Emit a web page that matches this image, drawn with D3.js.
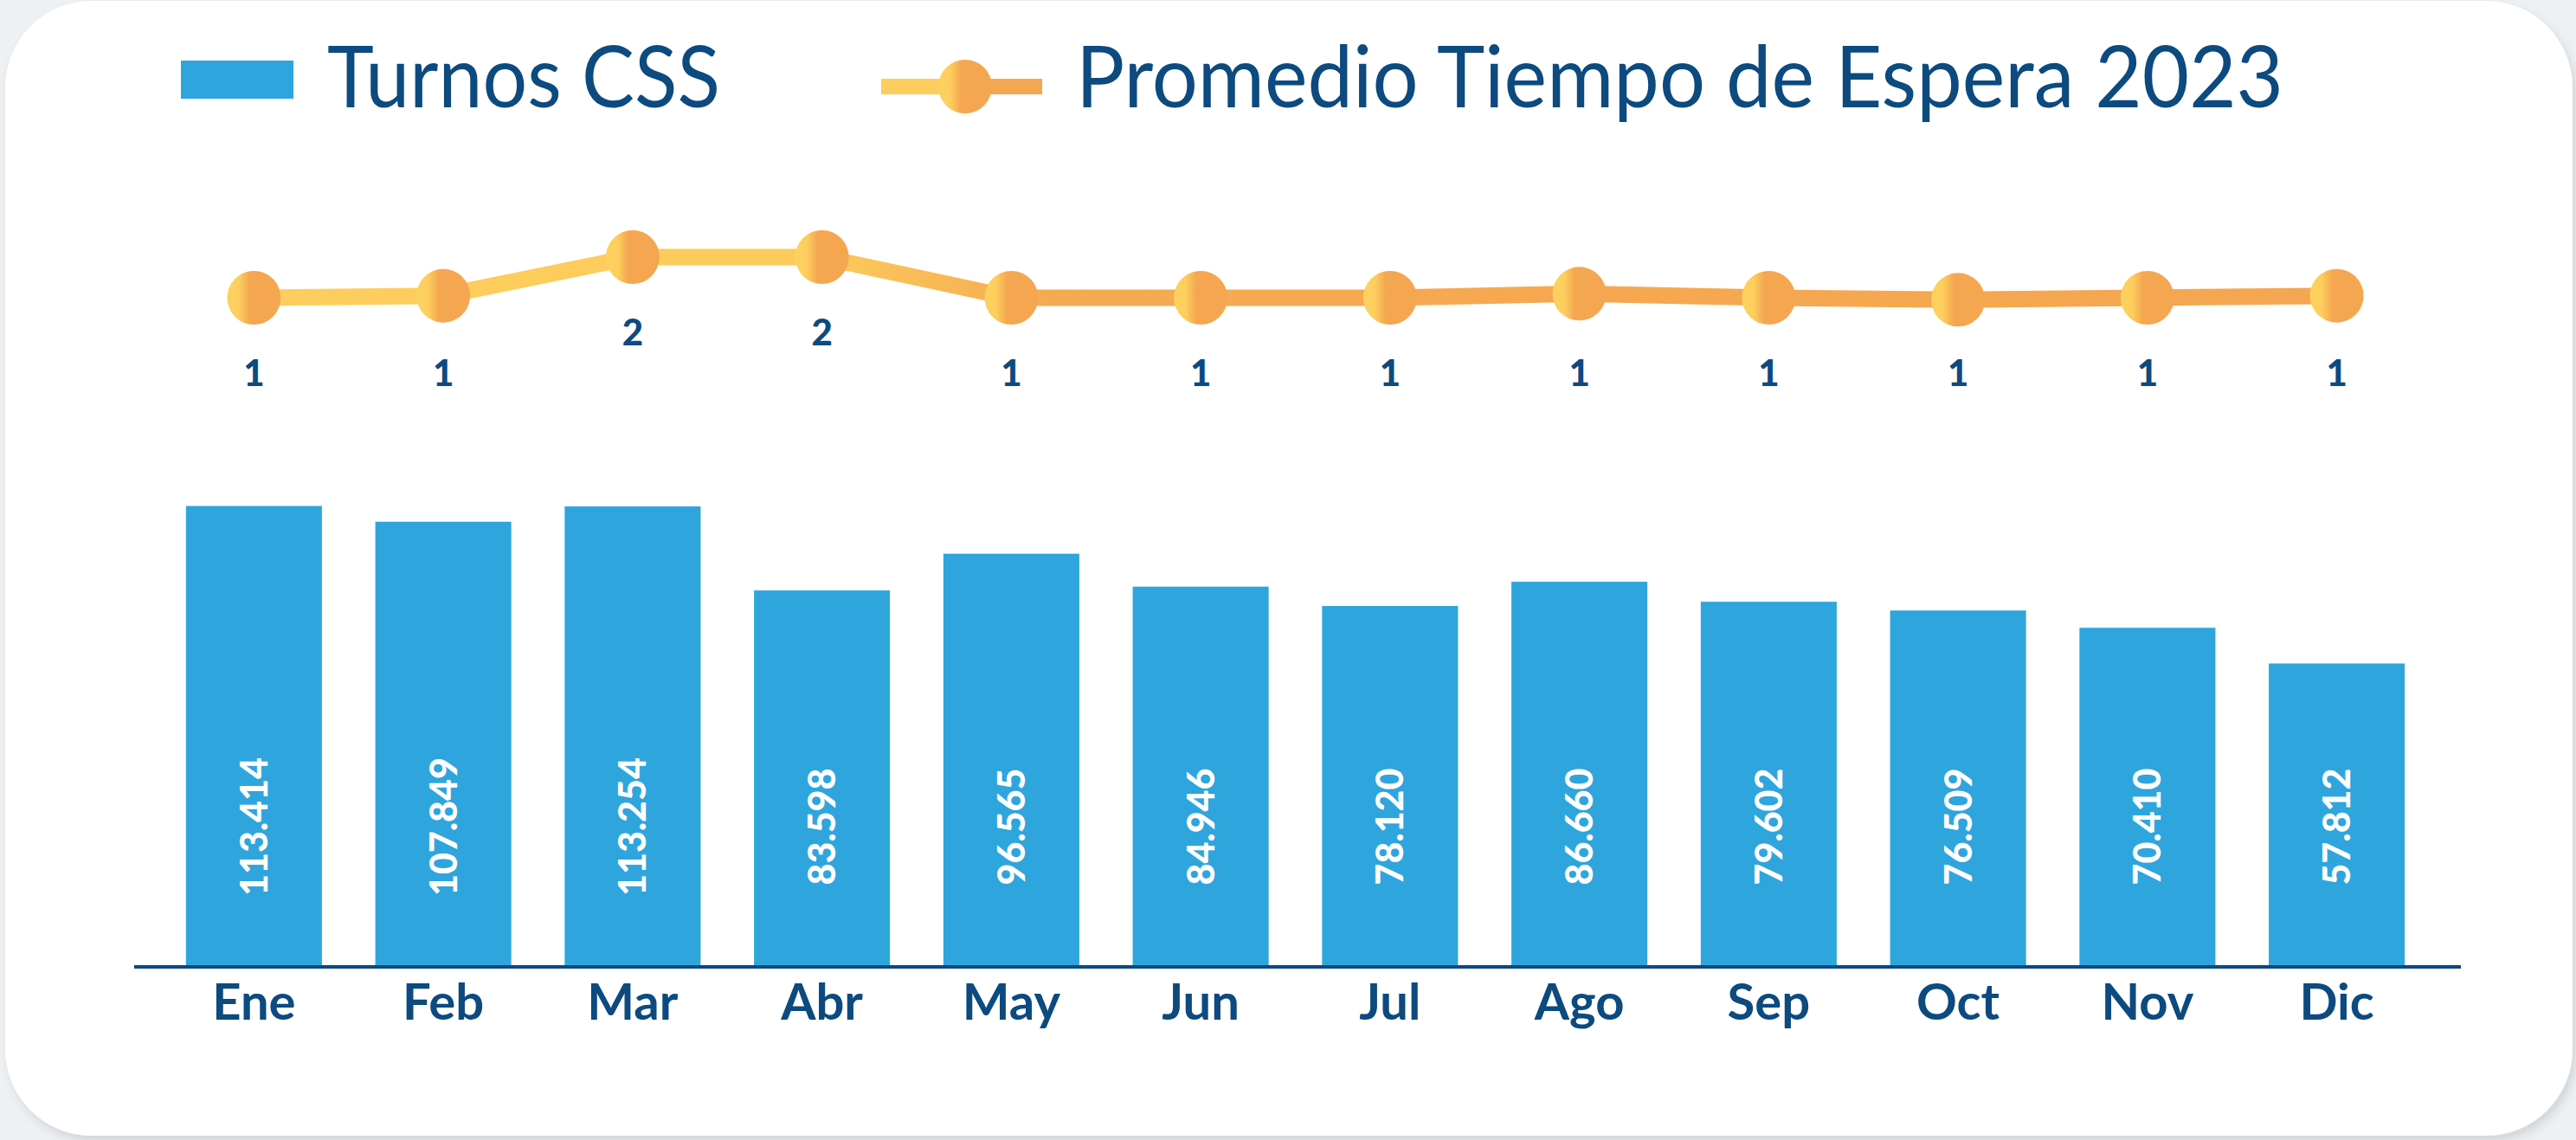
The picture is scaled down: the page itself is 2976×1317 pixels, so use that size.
<!DOCTYPE html>
<html>
<head>
<meta charset="utf-8">
<script src="https://cdn.jsdelivr.net/npm/d3@7"></script>
<style>
  html, body { margin: 0; padding: 0; background: #eef1f4; }
  svg { display: block; }
</style>
</head>
<body>
<div id="chart"></div>
<script>
const months = ["Ene", "Feb", "Mar", "Abr", "May", "Jun", "Jul", "Ago", "Sep", "Oct", "Nov", "Dic"];
const turnos = [113.414, 107.849, 113.254, 83.598, 96.565, 84.946, 78.120, 86.660, 79.602, 76.509, 70.410, 57.812];
const espera = [1.0, 1.05, 2.0, 2.0, 1.0, 1.0, 1.0, 1.1, 1.0, 0.95, 1.0, 1.05];
const legendLabels = ["Turnos CSS", "Promedio Tiempo de Espera 2023"];

const width = 2976, height = 1317;
const navy = "#0c4a7f", blue = "#2fa5dd";
const yellow = "#fdce5d", orange = "#f5a650";
const baseY = 1115;

const svg = d3.select("#chart").append("svg")
    .attr("width", width)
    .attr("height", height);

const defs = svg.append("defs");

const shadow = defs.append("filter").attr("id", "shadow")
    .attr("x", "-5%").attr("y", "-5%").attr("width", "110%").attr("height", "110%");
shadow.append("feDropShadow")
    .attr("dx", 4).attr("dy", 6).attr("stdDeviation", 6)
    .attr("flood-color", "#000").attr("flood-opacity", 0.12);

// gradient along the line: yellow on the left, orange from May on
const lineGrad = defs.append("linearGradient").attr("id", "lineGrad")
    .attr("gradientUnits", "userSpaceOnUse")
    .attr("x1", 293).attr("x2", 2700).attr("y1", 0).attr("y2", 0);
[[0, yellow], [0.27, "#fccb5b"], [0.38, "#f6aa51"], [1, orange]].forEach(s =>
    lineGrad.append("stop").attr("offset", s[0]).attr("stop-color", s[1]));

const dotGrad = defs.append("linearGradient").attr("id", "dotGrad")
    .attr("x1", 0).attr("x2", 1).attr("y1", 0).attr("y2", 0);
[[0, "#fed25f"], [0.22, yellow], [0.42, orange], [1, orange]].forEach(s =>
    dotGrad.append("stop").attr("offset", s[0]).attr("stop-color", s[1]));

const legGrad = defs.append("linearGradient").attr("id", "legGrad")
    .attr("gradientUnits", "userSpaceOnUse")
    .attr("x1", 1018).attr("x2", 1204).attr("y1", 0).attr("y2", 0);
[[0, yellow], [0.45, yellow], [0.55, orange], [1, orange]].forEach(s =>
    legGrad.append("stop").attr("offset", s[0]).attr("stop-color", s[1]));

// card
svg.append("rect")
    .attr("x", 6).attr("y", 1)
    .attr("width", width - 10).attr("height", height - 6)
    .attr("rx", 100).attr("ry", 100)
    .attr("fill", "#fff")
    .attr("filter", "url(#shadow)");

// scales
const x = d3.scaleBand()
    .domain(months)
    .range([184, 2809])
    .paddingInner(0.282)
    .paddingOuter(0.141);

const y = d3.scaleLinear()
    .domain([-48.7, 120])
    .range([baseY, 563]);

const yLine = d3.scaleLinear()
    .domain([1, 2])
    .range([344, 297]);

const cx = m => x(m) + x.bandwidth() / 2;

// bars
svg.append("g").selectAll("rect")
    .data(months)
    .join("rect")
    .attr("x", d => x(d))
    .attr("y", (d, i) => y(turnos[i]))
    .attr("width", x.bandwidth())
    .attr("height", (d, i) => baseY - y(turnos[i]))
    .attr("fill", blue);

// bar values, rotated
const fmtMiles = d3.format(".3f");
svg.append("g").selectAll("text")
    .data(months)
    .join("text")
    .attr("transform", d => `translate(${cx(d)},955) rotate(-90)`)
    .attr("text-anchor", "middle")
    .attr("dy", "0.36em")
    .attr("fill", "#fff")
    .style("font-family", "Lato, sans-serif")
    .style("font-weight", 900)
    .style("font-size", "43px")
    .text((d, i) => fmtMiles(turnos[i]));

// x axis
const xAxis = svg.append("g")
    .attr("transform", `translate(0,${baseY + 2})`)
    .call(d3.axisBottom(x).tickSize(0).tickPadding(0));
xAxis.select(".domain").remove();
xAxis.append("line")
    .attr("x1", 155).attr("x2", 2843)
    .attr("stroke", navy).attr("stroke-width", 4);
xAxis.selectAll(".tick text")
    .attr("y", 61)
    .attr("dy", 0)
    .attr("fill", navy)
    .style("font-family", "Lato, sans-serif")
    .style("font-weight", 700)
    .style("font-size", "58px");

// line
const line = d3.line()
    .x((d, i) => cx(months[i]))
    .y(d => yLine(d));

svg.append("path")
    .datum(espera)
    .attr("d", line)
    .attr("fill", "none")
    .attr("stroke", "url(#lineGrad)")
    .attr("stroke-width", 19)
    .attr("stroke-linejoin", "round");

svg.append("g").selectAll("circle")
    .data(espera)
    .join("circle")
    .attr("cx", (d, i) => cx(months[i]))
    .attr("cy", d => yLine(d))
    .attr("r", 31)
    .attr("fill", "url(#dotGrad)");

svg.append("g").selectAll("text")
    .data(espera)
    .join("text")
    .attr("x", (d, i) => cx(months[i]))
    .attr("y", d => yLine(Math.round(d)) + 102)
    .attr("text-anchor", "middle")
    .attr("fill", navy)
    .style("font-family", "Lato, sans-serif")
    .style("font-weight", 900)
    .style("font-size", "42px")
    .text(d => d3.format(".0f")(d));

// legend
const legend = svg.append("g");
legend.append("rect")
    .attr("x", 209).attr("y", 70)
    .attr("width", 130).attr("height", 44)
    .attr("fill", blue);
legend.append("text")
    .attr("x", 378).attr("y", 124)
    .attr("textLength", 454)
    .attr("lengthAdjust", "spacingAndGlyphs")
    .attr("fill", navy)
    .style("font-family", "Lato, sans-serif")
    .style("font-weight", 400)
    .style("font-size", "99px")
    .text(legendLabels[0]);

legend.append("line")
    .attr("x1", 1018).attr("x2", 1204)
    .attr("y1", 100).attr("y2", 100)
    .attr("stroke", "url(#legGrad)")
    .attr("stroke-width", 18);
legend.append("circle")
    .attr("cx", 1115).attr("cy", 100).attr("r", 31)
    .attr("fill", "url(#dotGrad)");
legend.append("text")
    .attr("x", 1243).attr("y", 124)
    .attr("textLength", 1395)
    .attr("lengthAdjust", "spacingAndGlyphs")
    .attr("fill", navy)
    .style("font-family", "Lato, sans-serif")
    .style("font-weight", 400)
    .style("font-size", "99px")
    .text(legendLabels[1]);
</script>
</body>
</html>
